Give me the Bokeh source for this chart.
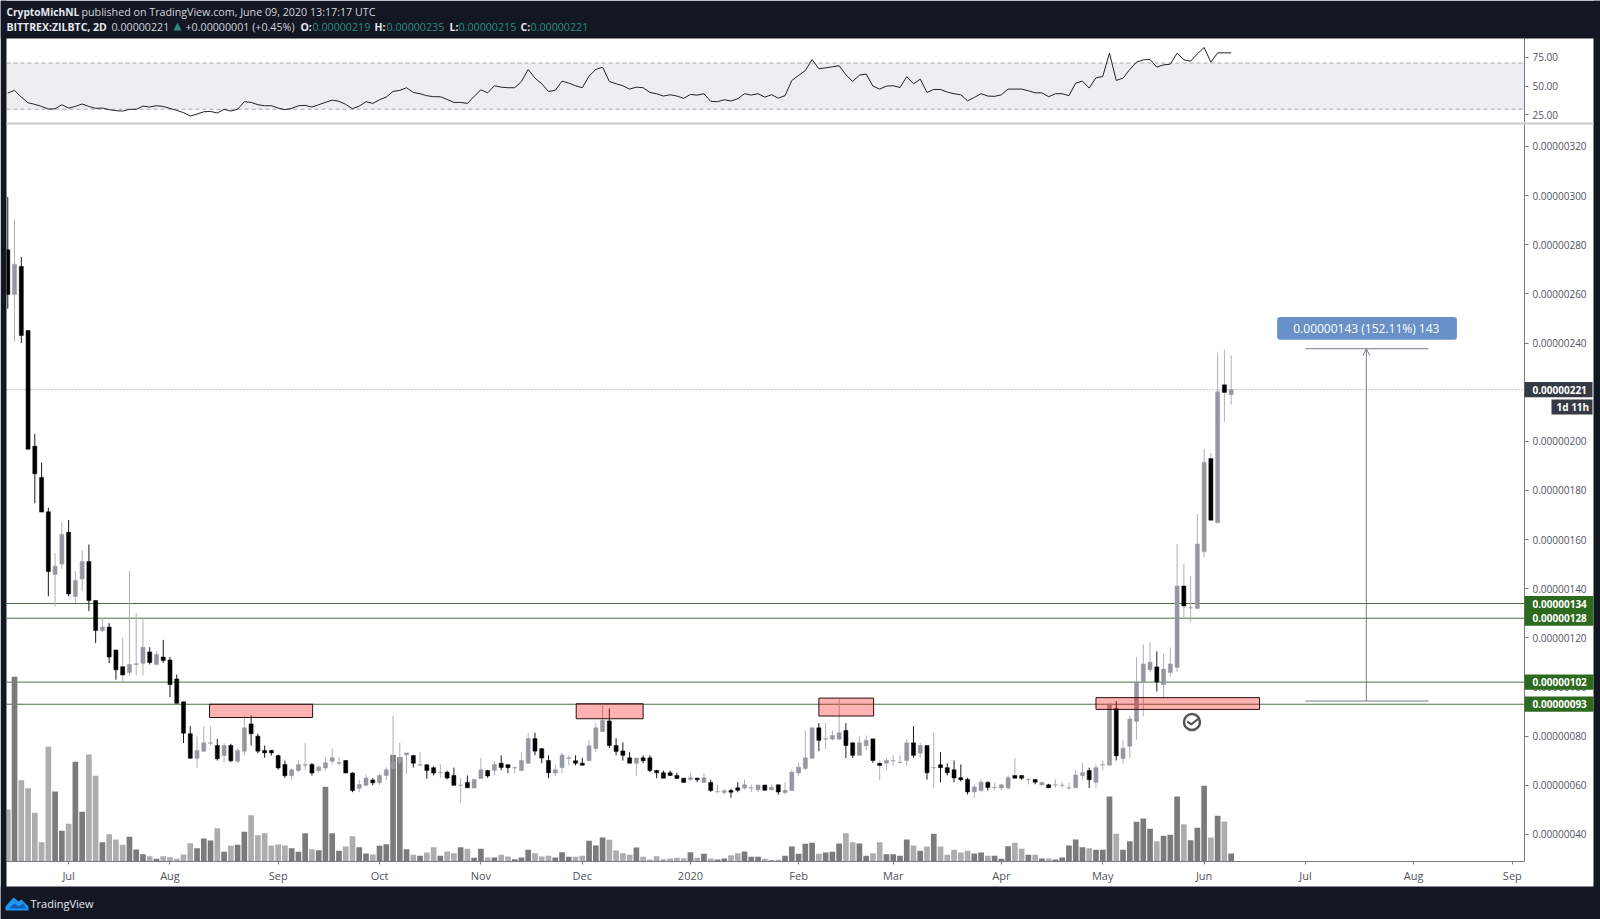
from bokeh.plotting import figure
from bokeh.layouts import column
from bokeh.models import (Range1d, FixedTicker, Span, BoxAnnotation, Label,
                          PolyAnnotation, Arrow, OpenHead, ColumnDataSource)
from bokeh.embed import file_html
from bokeh.resources import INLINE

# All prices in 1e-8 BTC, bar index = one 2-day candle
open_ = [278,259.8,271.2,245.1,198,185.3,171.3,145.8,150.1,163,
136.9,144,151.1,135.2,123,124.4,115.1,108.3,105.9,109.2,
109.7,114.3,109.2,112.2,111,103.3,94,81,71,73.9,
77.1,76.2,72.1,76.2,69.8,73.9,85,80,74.2,74.2,
72.1,68.5,63.9,66,68.2,68.5,66,67.1,69.8,69,
70.1,65,58.8,60,62.2,61,64,66.7,69.4,72.4,
72.1,68.2,68.4,67.2,65.1,65.3,64,60,61.2,58.9,
62.8,66,66.1,69,68.4,67.1,66,69,79,74.9,
70.1,65,67.2,71,70,69,70,75,81.9,86.2,
76.2,74,71.2,69,71.2,71.2,66,65.1,65.1,64,
62.9,62.3,62.9,61.2,61.2,57.3,57.1,57.9,59,58.9,
58.9,58.2,60.1,58.2,60.2,57.1,57.9,65,66.9,71,
83.4,78.8,78.8,78.8,82.3,77.3,72.2,76.1,78.9,69,
69,70,69.3,70.1,77.3,73.1,76.2,67.1,68.4,67.2,
66.3,63.1,62.4,57.3,57.9,61.2,59.1,58.9,58.9,64,
64,62.3,62.4,60.1,60.2,60.1,60,58.9,59,64,
66,61.3,68.3,68.2,91.2,70.9,75.9,86,102.1,107,
108.2,101,105.9,108,141.1,132.2,132,155.1,193,166.9,
223,219]
close = [259.8,272.1,243.1,196.8,186.8,171.2,147,149.2,162.1,137.9,
143.4,151.1,135.2,123,124.4,112.2,107,104.9,109.2,109.5,
116.2,110,113.2,110.8,101,93.4,81.2,71,74.2,77.3,
77.3,70.8,76.2,70,74.2,83.4,81,73.9,73.2,73.2,
67.1,63.9,66.3,68.5,68.4,65,67.4,69.2,71.2,69.2,
65,57.9,60.3,63,61,64,66.3,69.4,71.2,73.2,
69,68.4,66,65,65.2,63,60,60.1,59,62.4,
66.3,63.8,68.5,67.3,67.2,67.2,70.1,79,73.9,71.1,
65.1,66.3,72.3,71.2,69,68.2,76.1,83.4,86.4,76.2,
73.8,72.2,69,71.1,70,66,65.1,62.9,64,62.8,
61.2,63.1,62.3,63.1,57.9,57.4,57.8,57.2,58,60.2,
59,60.1,58,59.2,57.3,58,65.3,67.4,71.2,83.4,
78.3,79,80.3,81.4,76.2,72.2,77.3,78.3,70.1,68.1,
70.1,70.1,69.4,77.3,72.2,76.2,65.1,67.2,67.2,65.1,
63,62.3,57.3,59.3,61.3,59.1,59.2,60.2,63.1,62.9,
62.9,62.4,61.3,61.2,59,60.2,60.1,59,64.2,65.1,
62.3,67.2,68.4,93,72,75.1,87,102.1,109.4,110.1,
102.1,107.3,109.4,141.1,133,132.3,158.2,191.4,167.9,220.2,
219.9,221]
high = [299.4,290.2,275,245.1,203,191.4,173,154.5,167.1,168,
147.2,155.6,158,135.2,128.2,126,115.1,120,147.2,130.1,
128.2,116.2,114.6,119.2,112.2,105.1,94,84.1,79.9,84.1,
84.1,78.9,77.2,76.9,75.3,88.4,88.4,81,76.2,74.4,
72.5,70.1,66.7,70.1,77.2,69,68.1,71.2,75,71.5,
70.1,65.3,62.2,64.4,63,64.7,67.4,88.4,77.3,73.2,
72.4,73.5,68.5,67.7,68.5,66,67.2,63.1,64,62.4,
71.2,66.3,69.7,72.2,68.5,67.7,73.3,81.3,81.4,75.2,
72.2,68.5,73.3,72.2,72.2,71.2,78.3,85.3,93.2,91.3,
79.2,77.5,73.5,71.2,72.2,72.2,66.3,66,66,65.1,
62.9,65,63.1,65,62.3,60.2,58.6,58.6,61.3,62.3,
60.2,60.2,60.2,60.2,60.2,61.3,66.3,69,82.4,83.7,
85.3,85.3,82.3,95.2,85.3,77.5,80,80.3,78.9,70.1,
71.2,72.2,72.2,78.9,84.1,77.3,76.2,81.4,73.5,69,
70.1,68.5,63.1,60.4,62.4,61.6,60.9,60.6,64,71.2,
64,63.1,62.4,61.3,60.6,62.4,61.3,61,66.3,69,
67.2,68.5,70.1,93.5,94.3,78.3,88.4,112.2,117.3,118.3,
114.5,113.4,116.2,158.2,150.2,145.3,170.4,197,195.3,236,
237.4,235]
low = [254,240.6,240,196.8,174.8,171.2,136.9,132.8,148.1,136.9,
134.5,139,130.9,117.9,122.3,109.7,103,102.2,104.7,104.7,
104.7,109.2,109.2,109.8,95.9,93.4,77.2,71,67.1,73.5,
76.2,70.1,69.2,69.4,69,72.1,76.2,73.1,71.2,72.1,
66.4,63,62.2,65.4,66.3,64,65,66,68.5,68.1,
65,57.2,57.2,59.7,60,60,62,66.7,68.7,64.7,
67.2,68.1,62.7,64,63.1,62.4,60,52.9,59,58.9,
62.7,63.1,64,66.1,65,65,65.8,68.8,72.2,69,
62.9,63.8,65,68.1,68.1,68.1,70,73.5,81.7,75.2,
72.2,70.1,69,63.8,69,65.4,62.9,62.9,63.9,62.7,
61.2,62,61.3,61.2,57.3,57.2,56.3,55,57.2,58.2,
57.2,57.2,57.9,57.9,56.2,56.3,57.9,63.8,66.1,70.8,
73.9,74.9,78.3,78.5,71.1,71.2,72.2,74.2,69.2,62,
66.1,68.1,68.8,68.1,71.2,71.1,62.3,58.9,61.2,64,
61.3,61.6,56.3,55,57.2,57.9,57.9,57.9,58.2,62.9,
62.3,60.4,60.4,60,59,59,59,58.2,58.9,62.3,
58.9,59,66.3,68.2,70.1,68.8,71,78.6,88.1,106.1,
98.2,95.4,104.2,106.1,127.8,126.7,132,152.9,168,166.9,
208,215]
volume = [156,554,244,220,146,58,344,210,92,113,
299,149,321,257,58,82,66,50,74,36,
22,16,8,16,13,8,21,55,40,69,
63,100,29,47,50,89,139,79,85,48,
51,48,40,29,85,37,34,224,85,32,
45,76,43,24,21,47,52,320,313,37,
20,17,27,43,17,30,25,43,38,11,
38,12,12,20,15,7,12,35,25,15,
17,12,28,14,14,17,62,48,72,65,
33,25,20,42,14,6,16,7,9,11,
10,28,11,23,9,6,9,19,25,30,
14,14,8,4,5,17,45,23,53,56,
23,27,29,54,85,58,54,17,25,58,
22,22,17,66,48,32,45,83,45,20,
35,27,32,24,27,17,17,8,46,56,
38,20,20,9,9,6,12,48,66,43,
40,35,35,195,83,35,61,119,129,98,
61,77,80,195,112,64,101,227,72,137,
120,24]
volume_light = [1,0,1,1,1,1,1,0,0,1,
0,0,1,1,0,1,1,1,0,0,
0,1,0,1,1,1,1,1,0,0,
0,1,0,1,0,0,1,1,1,1,
1,1,0,0,0,1,0,0,0,0,
1,1,0,0,1,0,0,0,0,0,
1,0,1,1,0,1,1,0,1,0,
0,1,0,1,1,0,0,0,1,1,
1,0,0,0,1,1,0,0,0,1,
1,1,1,0,1,1,1,1,1,1,
1,0,1,0,1,0,0,1,1,0,
0,0,1,0,1,0,0,0,0,0,
1,0,0,0,1,1,0,0,1,1,
0,0,0,0,1,0,1,0,1,1,
1,1,1,0,0,1,0,0,0,1,
1,0,1,0,1,0,0,0,0,0,
1,0,0,0,1,0,0,0,0,0,
1,0,0,0,1,0,0,0,1,0,
1,0]
rsi = [44.0,46.3,40.5,35.6,34.2,32.4,30.1,30.4,33.9,31.0,
32.4,34.5,32.4,30.7,31.0,29.6,28.7,28.4,29.9,29.9,
32.7,31.9,33.0,32.4,30.7,29.0,27.0,24.1,25.8,27.8,
28.1,26.7,29.9,28.4,29.9,36.5,35.9,33.9,33.0,33.0,
31.0,29.6,30.7,33.0,33.3,31.9,33.9,35.9,37.9,36.8,
34.2,30.4,32.7,36.5,35.0,38.2,40.5,45.4,46.3,48.6,
44.5,43.4,41.7,40.8,40.8,38.5,35.9,35.9,35.0,41.1,
46.8,44.2,50.3,49.1,48.6,48.6,54.0,64.4,56.9,52.0,
45.4,46.3,54.3,52.6,50.3,48.6,58.6,64.4,66.4,54.0,
52.0,50.3,47.4,49.1,48.6,44.5,43.4,41.4,42.5,41.4,
39.4,42.8,42.2,43.4,36.8,36.5,38.2,37.1,39.1,43.4,
42.2,43.4,40.5,42.5,39.6,41.7,54.9,59.2,63.5,73.0,
65.0,65.8,66.7,67.6,59.8,54.0,59.5,60.4,50.0,47.4,
50.0,50.3,48.8,58.1,52.0,56.0,44.5,47.1,47.1,44.8,
43.4,42.5,37.3,40.2,43.4,41.4,41.1,42.5,47.4,47.4,
47.4,46.0,44.2,44.2,40.8,43.4,43.4,41.7,52.6,54.3,
48.3,57.2,58.3,78.5,54.9,56.9,64.4,70.7,72.7,73.0,
66.4,68.4,69.0,78.5,72.7,71.6,77.9,83.4,70.7,78.8,
78.8,78.8]
thin_grey_wick = [17,129,149,174,178,180]

month_ticks = [9,24,40,55,70,85,101,117,131,147,162,177,192,208,222.6]
month_labels = ["Jul","Aug","Sep","Oct","Nov","Dec","2020","Feb","Mar","Apr","May","Jun","Jul","Aug","Sep"]
price_ticks = [40,60,80,100,120,140,160,180,200,220,240,260,280,300,320]
rsi_ticks = [25,50,75]
rsi_band = [30,70]
levels = [134,128,102,93]
last_price = 221
zone_left = [29.85,84.1,120,161]
zone_right = [45.1,94,128.1,185.2]
zone_top = [93,93.2,95.5,95.7]
zone_bottom = [87.6,87.1,88.2,90.9]
measure_x = 201
measure_left, measure_right = 192, 210.2
measure_low, measure_high = 94.3, 237.7
measure_text = "0.00000143 (152.11%) 143"
check_x = [174.5, 175.1, 176.2]
check_y = [85.9, 84.8, 87.2]
check_center = (175.2, 85.8)

DARK = "#131722"
TXT = "#50535e"
FONT = "Open Sans"
X_RANGE = (-0.19, 224.4)

def style_right_axis(ax, ticks, labels):
    ax.ticker = FixedTicker(ticks=ticks)
    ax.major_label_overrides = dict(zip(ticks, labels))
    ax.minor_tick_line_color = None
    ax.major_tick_in = 0
    ax.major_tick_out = 4
    ax.major_tick_line_color = "#787b86"
    ax.axis_line_color = "#787b86"
    ax.major_label_text_color = TXT
    ax.major_label_text_font = FONT
    ax.major_label_text_font_size = "10px"
    ax.major_label_standoff = 4

idx = list(range(len(open_)))

# ---------- RSI pane
r = figure(width=1600, height=124, output_backend="svg", toolbar_location=None,
           x_range=Range1d(*X_RANGE), y_range=Range1d(18.5, 91.2),
           x_axis_location=None, y_axis_location="right",
           min_border_left=6, min_border_right=76, min_border_top=38, min_border_bottom=2,
           border_fill_color="white", background_fill_color="white", outline_line_color=None)
r.grid.visible = False
r.add_layout(BoxAnnotation(bottom=rsi_band[0], top=rsi_band[1], fill_color="#eceef2", fill_alpha=1, line_alpha=0, level="underlay"))
for lv in rsi_band:
    r.add_layout(Span(location=lv, dimension="width", line_color="#a8a9ad", line_dash="4 3", line_width=1, level="underlay"))
r.line(idx, rsi, line_color="#222222", line_width=1)
style_right_axis(r.yaxis[0], rsi_ticks, [f"{t:.2f}" for t in rsi_ticks])

# ---------- Price pane
p = figure(width=1600, height=795, output_backend="svg", toolbar_location=None,
           x_range=Range1d(*X_RANGE), y_range=Range1d(29.0, 328.95),
           y_axis_location="right",
           min_border_left=6, min_border_right=76, min_border_top=0, min_border_bottom=58,
           border_fill_color="white", background_fill_color="white", outline_line_color=None)
p.grid.visible = False
p.extra_y_ranges = {"vol": Range1d(0, 2211)}

style_right_axis(p.yaxis[0], price_ticks, [f"{t/1e8:.8f}" for t in price_ticks])
xa = p.xaxis[0]
xa.ticker = FixedTicker(ticks=month_ticks)
xa.major_label_overrides = dict(zip(month_ticks, month_labels))
xa.minor_tick_line_color = None
xa.major_tick_in = 0
xa.major_tick_out = 3
xa.major_tick_line_color = "#787b86"
xa.axis_line_color = "#787b86"
xa.major_label_text_color = TXT
xa.major_label_text_font = FONT
xa.major_label_text_font_size = "11px"
xa.major_label_standoff = 3

vsrc = ColumnDataSource(dict(x=idx, v=volume,
        c=["#adadad" if f else "#7b7b7b" for f in volume_light]))
p.vbar(x="x", top="v", bottom=0, width=0.84, color="c", source=vsrc, y_range_name="vol", line_alpha=0)

for lv in levels:
    p.add_layout(Span(location=lv, dimension="width", line_color="#4f6f42", line_width=1, level="underlay"))
p.add_layout(Span(location=last_price, dimension="width", line_color="#8a8b90", line_dash="1 2", line_width=1, level="underlay"))

csrc = ColumnDataSource(dict(x=idx, o=open_, h=high, l=low, c=close,
        body=["#9598a1" if c >= o else "#000000" for o, c in zip(open_, close)],
        wick=["#aeb0b6" if (c >= o or i in thin_grey_wick) else "#1a1a1a" for i, (o, c) in enumerate(zip(open_, close))],
        btm=[min(o, c) for o, c in zip(open_, close)], tp=[max(o, c) for o, c in zip(open_, close)]))
p.segment("x", "h", "x", "l", color="wick", line_width=1, source=csrc)
p.vbar(x="x", top="tp", bottom="btm", width=0.6, fill_color="body", line_color="body", line_width=0.5, source=csrc)

p.quad(left=zone_left, right=zone_right, top=zone_top, bottom=zone_bottom,
       fill_color="#ff0000", fill_alpha=0.3, line_color="#2a1010", line_width=1)

# check mark below the last zone
p.scatter([check_center[0]], [check_center[1]], marker="circle", size=16, fill_color=None, line_color="#555555", line_width=2.5)
p.line(check_x, check_y, line_color="#555555", line_width=2.2)

# measure tool
p.segment([measure_left, measure_left], [measure_low, measure_high], [measure_right, measure_right],
          [measure_low, measure_high], line_color="#787b86", line_width=1)
p.add_layout(Arrow(x_start=measure_x, y_start=measure_low, x_end=measure_x, y_end=measure_high,
                   line_color="#787b86", line_width=1,
                   end=OpenHead(size=7, line_color="#787b86", line_width=1)))
p.add_layout(BoxAnnotation(left=187.8, right=214.4, top=250.6, bottom=241.3, fill_color="#6a90c8", fill_alpha=1,
                           line_alpha=0, border_radius=3))
p.add_layout(Label(x=measure_x, y=246, text=measure_text, text_color="white", text_font=FONT, text_font_size="12px",
                   text_align="center", text_baseline="middle"))

# ---------- Page overlay: same price scale over the whole page, no axes, transparent
o = figure(width=1600, height=919, output_backend="svg", toolbar_location=None,
           x_range=Range1d(0, 1600), y_range=Range1d(5.39, 379.42),
           x_axis_location=None, y_axis_location=None,
           min_border_left=0, min_border_right=0, min_border_top=0, min_border_bottom=0,
           border_fill_color=None, background_fill_color=None, outline_line_color=None)
o.grid.visible = False

def box(left, right, top, bottom, color, radius=0):
    o.add_layout(BoxAnnotation(left=left, right=right, top=top, bottom=bottom,
                 left_units="canvas", right_units="canvas", top_units="canvas", bottom_units="canvas",
                 fill_color=color, fill_alpha=1, line_alpha=0, border_radius=radius))

def tag(level, right, color):
    o.add_layout(BoxAnnotation(left=1524, right=right, left_units="canvas", right_units="canvas",
                               top=level + 3.1, bottom=level - 3.1, fill_color=color, fill_alpha=1, line_alpha=0))

def tag_text(level):
    o.add_layout(Label(x=1532, y=level, x_units="canvas", text=f"{level/1e8:.8f}", text_color="white", text_font=FONT,
                       text_font_size="10px", text_font_style="bold", text_baseline="middle"))

def text(s, x, y, color="#d1d4dc", bold=False, size="10.7px"):
    o.add_layout(Label(x=x, y=y, x_units="canvas", y_units="canvas", text=s, text_color=color,
                       text_font=FONT, text_font_size=size, text_baseline="middle",
                       text_font_style="bold" if bold else "normal"))

box(0, 1600, 0, 38, DARK)
box(0, 6, 0, 919, DARK)
box(1593, 1600, 0, 919, DARK)
box(0, 1600, 886, 919, DARK)
box(6, 1593, 122, 124, "#c9cacd")

TEAL = "#2b8b80"
text("CryptoMichNL", 6, 11, "#e6e8ee", True, "10.2px")
text("published on TradingView.com, June 09, 2020 13:17:17 UTC", 81, 11)
text("BITTREX:ZILBTC, 2D", 6, 26, "#e6e8ee", True, "10.5px")
text("0.00000221", 111, 26)
o.add_layout(PolyAnnotation(xs=[173, 181, 177], ys=[30, 30, 22], xs_units="canvas", ys_units="canvas",
                            fill_color=TEAL, fill_alpha=1, line_alpha=0))
text("+0.00000001 (+0.45%)", 185, 26)
for name, nx, val, vx in [("O:", 300, "0.00000219", 312), ("H:", 374, "0.00000235", 386),
                          ("L:", 449, "0.00000215", 458), ("C:", 520, "0.00000221", 530)]:
    text(name, nx, 26, "#e6e8ee", True, "10.5px")
    text(val, vx, 26, TEAL)

GREEN = "#2d6a1f"
for lv in levels:
    tag(lv, 1593, GREEN)
for lv in levels:
    tag_text(lv)
tag(last_price, 1592, "#363a45")
tag_text(last_price)
box(1551, 1592, 399, 414, "#363a45")
text("1d 11h", 1556, 406.5, "white", True, "10px")

o.add_layout(PolyAnnotation(xs=[5, 5, 13, 18, 21, 28, 28], ys=[910, 906, 897, 901, 899, 906, 910],
                            xs_units="canvas", ys_units="canvas", fill_color="#2196f3", fill_alpha=1, line_alpha=0))
o.add_layout(PolyAnnotation(xs=[8, 14, 18, 23, 26, 8], ys=[908, 903, 906, 903, 908, 908],
                            xs_units="canvas", ys_units="canvas", fill_color="#0f5fb8", fill_alpha=1, line_alpha=0))
text("TradingView", 30, 903, "#e6e8ee", False, "11px")

pos = {"position": "absolute", "left": "0px", "top": "0px"}
root = column(r, p, spacing=0, styles=pos)
o.styles = pos
open("out.html", "w").write(file_html([root, o], INLINE))
